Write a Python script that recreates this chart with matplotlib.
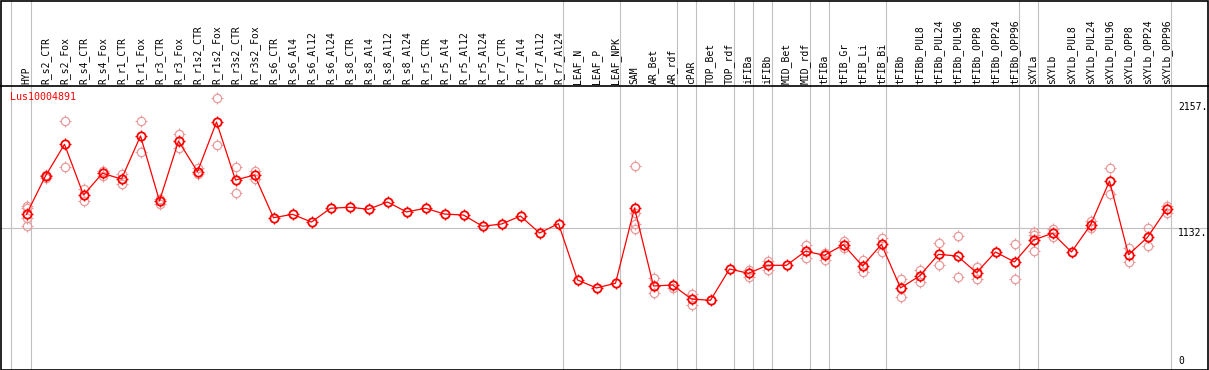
import matplotlib
matplotlib.use('Agg')
import matplotlib.pyplot as plt
from matplotlib.path import Path
from matplotlib.patches import Rectangle
import matplotlib.transforms as mtransforms

gene = 'Lus10004891'

categories = ['HYP', 'R_s2_CTR', 'R_s2_Fox', 'R_s4_CTR', 'R_s4_Fox', 'R_r1_CTR', 'R_r1_Fox',
              'R_r3_CTR', 'R_r3_Fox', 'R_r1s2_CTR', 'R_r1s2_Fox', 'R_r3s2_CTR', 'R_r3s2_Fox',
              'R_s6_CTR', 'R_s6_Al4', 'R_s6_Al12', 'R_s6_Al24', 'R_s8_CTR', 'R_s8_Al4',
              'R_s8_Al12', 'R_s8_Al24', 'R_r5_CTR', 'R_r5_Al4', 'R_r5_Al12', 'R_r5_Al24',
              'R_r7_CTR', 'R_r7_Al4', 'R_r7_Al12', 'R_r7_Al24', 'LEAF_N', 'LEAF_P', 'LEAF_NPK',
              'SAM', 'AR_Bet', 'AR_rdf', 'cPAR', 'TOP_Bet', 'TOP_rdf', 'iFIBa', 'iFIBb',
              'MID_Bet', 'MID_rdf', 'tFIBa', 'tFIB_Gr', 'tFIB_Li', 'tFIB_Bi', 'tFIBb',
              'tFIBb_PUL8', 'tFIBb_PUL24', 'tFIBb_PUL96', 'tFIBb_OPP8', 'tFIBb_OPP24',
              'tFIBb_OPP96', 'sXYLa', 'sXYLb', 'sXYLb_PUL8', 'sXYLb_PUL24', 'sXYLb_PUL96',
              'sXYLb_OPP8', 'sXYLb_OPP24', 'sXYLb_OPP96']

means = [1246, 1557, 1814, 1403, 1579, 1532, 1882, 1354, 1841, 1592, 1995, 1524, 1565,
         1218, 1246, 1183, 1295, 1303, 1287, 1346, 1265, 1295, 1248, 1240, 1149,
         1167, 1232, 1094, 1170, 713, 648, 686,
         1297, 664, 672, 558, 548, 802, 767, 832,
         832, 946, 913, 999, 826, 1002, 648,
         745, 921, 907, 772, 940, 859,
         1037, 1092, 940, 1159, 1516, 918, 1059, 1287]

replicates = [
    [1313, 1297, 1216, 1151], [1565, 1541], [2001, 1627], [1451, 1356], [1600, 1557],
    [1571, 1494], [2001, 1752], [1370, 1330], [1898, 1782], [1622, 1576], [2188, 1806],
    [1627, 1416], [1600, 1532],
    [], [], [], [], [], [], [], [], [], [], [], [], [], [], [], [], [], [], [],
    [1638, 1254, 1167, 1129], [729, 605], [675, 648], [599, 507], [], [], [794, 737], [867, 794],
    [], [997, 894], [934, 875], [1032, 970], [875, 778], [1051, 942], [718, 572],
    [794, 694], [1011, 832], [1070, 735], [816, 718], [], [1005, 718],
    [1102, 1075, 946], [1129, 1064], [], [1189, 1135], [1619, 1408], [970, 861], [1132, 986],
    [1313, 1259],
]

separators_after = [0, 28, 31, 34, 35, 37, 38, 39, 41, 42, 45, 52, 53, 60]
ref_line_value = 1132
y_tick_values = [2157, 1132, 0]
y_tick_labels = ['2157.', '1132.', '0']

W, H = 1209, 370
fig = plt.figure(figsize=(W / 100, H / 100), dpi=100)
ax = fig.add_axes([0, 0, 1, 1])
x0_px, dx_px = 26.5, 19.0
ax.set_xlim(-x0_px / dx_px, (W - x0_px) / dx_px)
base_px, scale = 367.8, 0.1232
ax.set_ylim((base_px - H) / scale, base_px / scale)
ax.axis('off')

mono = 'DejaVu Sans Mono'
grey = '#c0c0c0'
header_y = 1 - 85.5 / H
blend = mtransforms.blended_transform_factory(ax.transData, ax.transAxes)
blend_y = mtransforms.blended_transform_factory(ax.transAxes, ax.transData)

# separators
for s in separators_after:
    ax.axvline(s + 0.25, color=grey, lw=0.8, zorder=1)
ax.axvline(-0.84, color=grey, lw=0.8, zorder=1)
ax.axhline(ref_line_value, color=grey, lw=0.8, zorder=1)

# header line
ax.plot([0, 1], [header_y, header_y], transform=ax.transAxes, color='black', lw=1.2, zorder=3)

# tick-only marker (small protrusions around circles)
tick_verts = [(0, 0.72), (0, 1.0), (0, -0.72), (0, -1.0), (0.72, 0), (1.0, 0), (-0.72, 0), (-1.0, 0)]
tick_codes = [Path.MOVETO, Path.LINETO] * 4
tick_marker = Path(tick_verts, tick_codes)

rep_color = '#ea9a9a'
# replicates
for i, reps in enumerate(replicates):
    if reps:
        ax.plot([i] * len(reps), reps, linestyle='none', marker='o', ms=6.0,
                mfc='none', mec=rep_color, mew=0.9, zorder=2)
        ax.plot([i] * len(reps), reps, linestyle='none', marker=tick_marker, ms=8.0,
                mfc='none', mec=rep_color, mew=0.8, zorder=2)

# means
xs = list(range(len(categories)))
ax.plot(xs, means, color='red', lw=0.9, marker='o', ms=6.0, mfc='none',
        mec='red', mew=1.3, zorder=4)
ax.plot(xs, means, linestyle='none', marker=tick_marker, ms=8.0, mfc='none',
        mec='red', mew=0.9, zorder=4)

# header labels
for i, c in enumerate(categories):
    ax.text(i, 1 - 83.5 / H, c, rotation=90, ha='center', va='bottom', transform=blend,
            fontsize=7, family=mono, color='black')

# gene label
ax.text(10 / W, 1 - 97.5 / H, gene, ha='left', va='center', transform=ax.transAxes,
        fontsize=7.2, family=mono, color='red')

# y tick labels
for v, lab in zip(y_tick_values, y_tick_labels):
    if v == 0:
        ax.text(1178 / W, 1 - 366 / H, lab, ha='left', va='bottom', transform=ax.transAxes,
                fontsize=7, family=mono, color='black')
    else:
        ax.text(1178 / W, v, lab, ha='left', va='top', transform=blend_y,
                fontsize=7, family=mono, color='black')

# outer border
fig.add_artist(Rectangle((0.5 / W, 0.5 / H), (W - 1.5) / W, (H - 1.5) / H,
                         transform=fig.transFigure, fill=False, ec='black', lw=1.2))

fig.savefig('out.png', dpi=100)
